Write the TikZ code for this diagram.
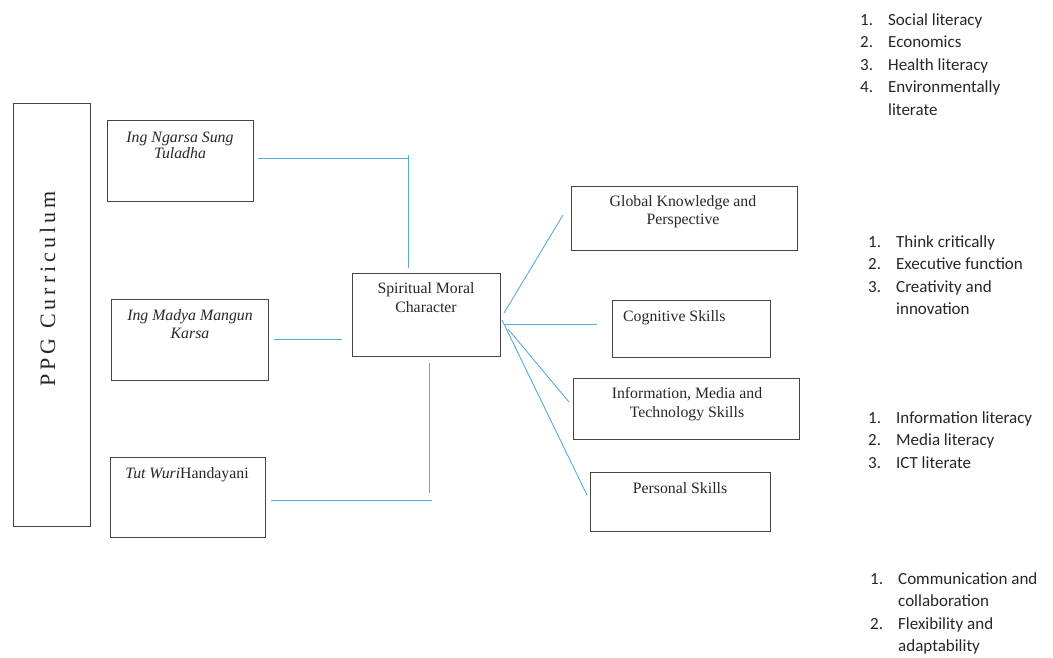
\documentclass[tikz,border=0pt]{standalone}
\usepackage{fontspec}
\setmainfont{Liberation Serif}
\newfontfamily\listfont{Carlito}
\definecolor{inkc}{HTML}{262626}
\definecolor{edgec}{HTML}{444444}
\definecolor{linkc}{HTML}{5AA8E0}
\newcommand{\ctext}[1]{\begin{tabular}[t]{@{}c@{}}#1\end{tabular}}
\newcommand{\ltext}[1]{\begin{tabular}[t]{@{}p{28pt}@{}l@{}}#1\end{tabular}}
\begin{document}
\begin{tikzpicture}[x=1pt,y=-1pt,
  box/.style={draw=edgec,line width=0.8pt,rectangle,inner sep=0pt},
  lbl/.style={text=inkc,inner sep=0pt,font=\fontsize{15.8}{18.5}\selectfont},
  lst/.style={text=inkc,inner sep=0pt,anchor=base west,font=\listfont\fontsize{17}{22.6}\selectfont},
  link/.style={draw=linkc,line width=0.9pt}]
\useasboundingbox (0,0) rectangle (1053,657);
% boxes
\node[box,minimum width=77pt,minimum height=423pt] (ppg) at (51.5,314.5) {};
\node[box,minimum width=146pt,minimum height=81pt] (ngarsa) at (180,160.5) {};
\node[box,minimum width=157pt,minimum height=81pt] (madya) at (189.5,339.5) {};
\node[box,minimum width=155pt,minimum height=80pt] (tut) at (187.5,497) {};
\node[box,minimum width=148pt,minimum height=83pt] (smc) at (426,314.5) {};
\node[box,minimum width=226pt,minimum height=64pt] (glob) at (684,218) {};
\node[box,minimum width=158pt,minimum height=57pt] (cog) at (691,328.5) {};
\node[box,minimum width=226pt,minimum height=61pt] (imt) at (686,408.5) {};
\node[box,minimum width=180pt,minimum height=59pt] (pers) at (680,501.5) {};
% texts
\node[text=inkc,inner sep=0pt,rotate=90,anchor=base,font=\fontsize{22}{26}\selectfont\addfontfeature{LetterSpace=18}] (ppgt) at (55,289) {PPG Curriculum};
\node[lbl,anchor=base,font=\fontsize{15.8}{16.5}\selectfont] (ngarsat) at (180,142) {\ctext{\itshape Ing Ngarsa Sung\\\itshape Tuladha}};
\node[lbl,anchor=base,font=\fontsize{15.8}{18}\selectfont] (madyat) at (190,320) {\ctext{\itshape Ing Madya Mangun\\\itshape Karsa}};
\node[lbl,anchor=base] (tutt) at (187,478) {\textit{Tut Wuri}Handayani};
\node[lbl,anchor=base,font=\fontsize{15.8}{19}\selectfont] (smct) at (426,293) {\ctext{Spiritual Moral\\Character}};
\node[lbl,anchor=base,font=\fontsize{15.8}{18}\selectfont] (globt) at (683,206) {\ctext{Global Knowledge and\\Perspective}};
\node[lbl,anchor=base west] (cogt) at (623,321) {Cognitive Skills};
\node[lbl,anchor=base,font=\fontsize{15.8}{19}\selectfont] (imtt) at (687,398) {\ctext{Information, Media and\\Technology Skills}};
\node[lbl,anchor=base] (perst) at (680,493) {Personal Skills};
% lists
\node[lst] (list1) at (860,25) {\ltext{1. & Social literacy\\2. & Economics\\3. & Health literacy\\4. & Environmentally\\ & literate}};
\node[lst] (list2) at (868,247) {\ltext{1. & Think critically\\2. & Executive function\\3. & Creativity and\\ & innovation}};
\node[lst] (list3) at (868,423) {\ltext{1. & Information literacy\\2. & Media literacy\\3. & ICT literate}};
\node[lst] (list4) at (870,584) {\ltext{1. & Communication and\\ & collaboration\\2. & Flexibility and\\ & adaptability}};
% connector coordinates
\coordinate (a1) at (258,158);
\coordinate (a2) at (408,158);
\coordinate (a3) at (408,155);
\coordinate (a4) at (408,268);
\coordinate (b1) at (274,339);
\coordinate (b2) at (342,339);
\coordinate (c1) at (271,500);
\coordinate (c2) at (432,500);
\coordinate (c3) at (429,363);
\coordinate (c4) at (429,493);
\coordinate (d0) at (504,313);
\coordinate (d1) at (563,215);
\coordinate (e0) at (505,324);
\coordinate (e1) at (597,324);
\coordinate (f0) at (508,329);
\coordinate (f1) at (569,402);
\coordinate (g0) at (502,320);
\coordinate (g1) at (587,495);
% connectors
\draw[link] (a1) -- (a2);
\draw[link] (a3) -- (a4);
\draw[link] (b1) -- (b2);
\draw[link] (c1) -- (c2);
\draw[link] (c3) -- (c4);
\draw[link] (d0) -- (d1);
\draw[link] (e0) -- (e1);
\draw[link] (f0) -- (f1);
\draw[link] (g0) -- (g1);
\end{tikzpicture}
\end{document}
